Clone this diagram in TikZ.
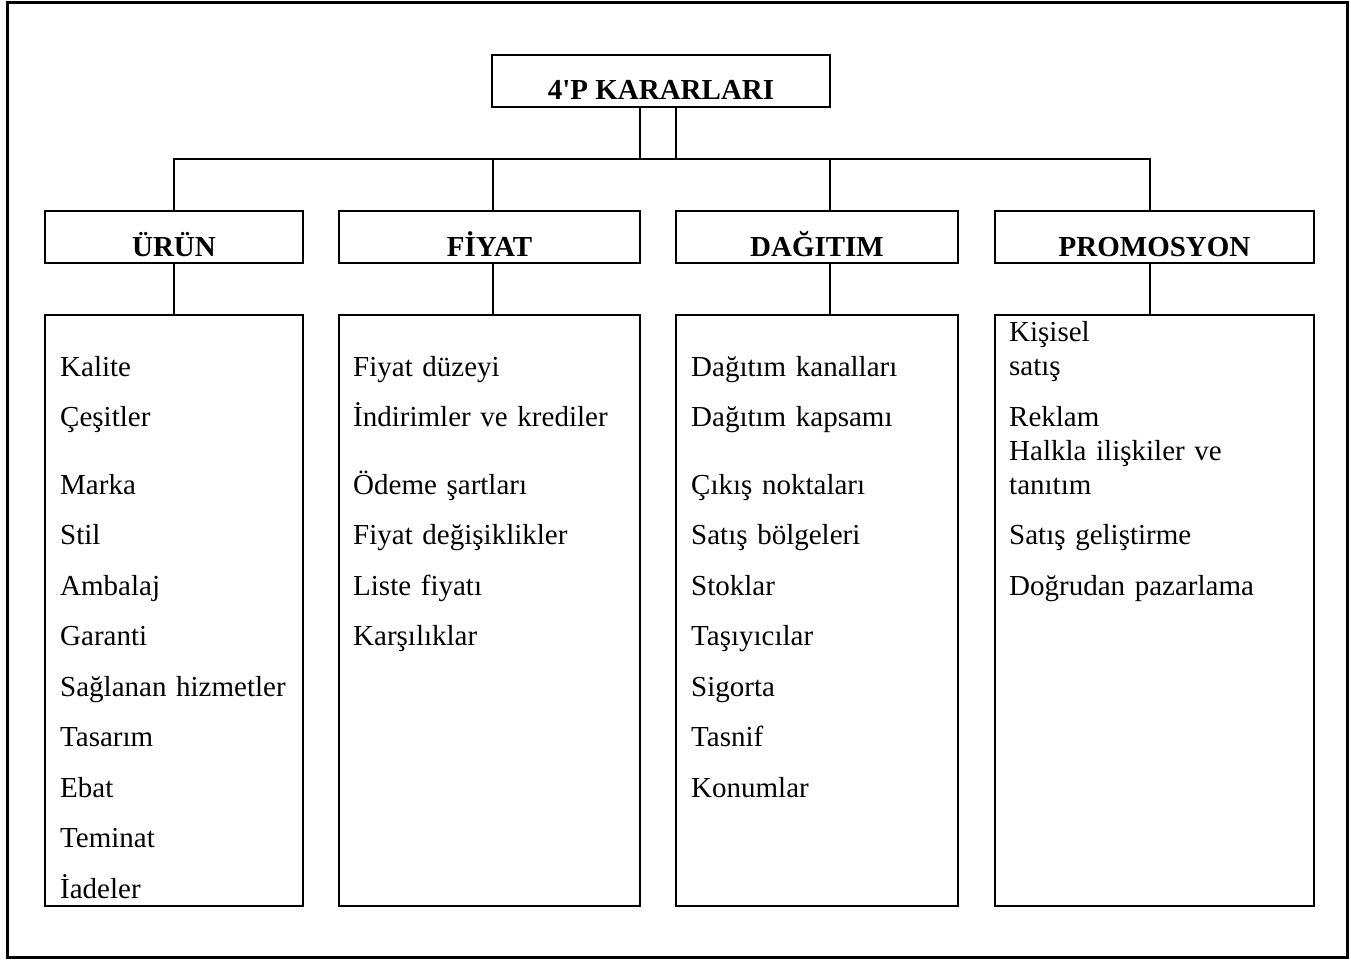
\documentclass[tikz,border=0pt]{standalone}
\usepackage{fontspec}
\setmainfont{Liberation Serif}
\usetikzlibrary{positioning}
\tikzstyle{head} = [rectangle, draw=black, line width=2pt, inner sep=0pt, outer sep=0pt, text height=45pt, text depth=7pt, font=\bfseries\fontsize{29}{35}\selectfont]
\tikzstyle{liste} = [rectangle, draw=black, line width=2pt, inner sep=0pt, outer sep=0pt, minimum height=591pt]
\tikzstyle{item} = [inner sep=0pt, text width=270pt, align=left, text height=21pt, text depth=7pt, font=\fontsize{29}{35}\selectfont]
\tikzstyle{item2} = [inner sep=0pt, text width=270pt, align=left, anchor=base west, font=\fontsize{29}{34.5}\selectfont]
\tikzstyle{line} = [line width=2pt]

\begin{document}
\begin{tikzpicture}[x=1pt, y=-1pt, node distance=50.5pt]

\useasboundingbox (0,0) rectangle (1351,960);
\draw [line width=3pt] (7.5,2.5) rectangle (1347.5,957);

\node (top) [head, minimum width=338pt, anchor=north west] at (492,55) {4\textquotesingle P KARARLARI};

\node (urun) [head, minimum width=258pt, anchor=north west] at (45,211) {ÜRÜN};
\node (fiyat) [head, minimum width=301pt, right=36pt of urun] {FİYAT};
\node (dagitim) [head, minimum width=282pt, right=36pt of fiyat] {DAĞITIM};
\node (promosyon) [head, minimum width=319pt, right=37pt of dagitim] {PROMOSYON};

\node (urunliste) [liste, minimum width=258pt, below=52pt of urun] {};
\node (fiyatliste) [liste, minimum width=301pt, below=52pt of fiyat] {};
\node (dagitimliste) [liste, minimum width=282pt, below=52pt of dagitim] {};
\node (promosyonliste) [liste, minimum width=319pt, below=52pt of promosyon] {};

% urun
\node (u1) [item, anchor=base west] at (60,376) {Kalite};
\node (u2) [item, below of=u1] {Çeşitler};
\node (u3) [item, below of=u2, yshift=-17pt] {Marka};
\node (u4) [item, below of=u3] {Stil};
\node (u5) [item, below of=u4] {Ambalaj};
\node (u6) [item, below of=u5] {Garanti};
\node (u7) [item, below of=u6] {Sağlanan hizmetler};
\node (u8) [item, below of=u7] {Tasarım};
\node (u9) [item, below of=u8] {Ebat};
\node (u10) [item, below of=u9] {Teminat};
\node (u11) [item, below of=u10] {İadeler};

% fiyat
\node (f1) [item, anchor=base west] at (353,376) {Fiyat düzeyi};
\node (f2) [item, below of=f1] {İndirimler ve krediler};
\node (f3) [item, below of=f2, yshift=-17pt] {Ödeme şartları};
\node (f4) [item, below of=f3] {Fiyat değişiklikler};
\node (f5) [item, below of=f4] {Liste fiyatı};
\node (f6) [item, below of=f5] {Karşılıklar};

% dagitim
\node (d1) [item, anchor=base west] at (691,376) {Dağıtım kanalları};
\node (d2) [item, below of=d1] {Dağıtım kapsamı};
\node (d3) [item, below of=d2, yshift=-17pt] {Çıkış noktaları};
\node (d4) [item, below of=d3] {Satış bölgeleri};
\node (d5) [item, below of=d4] {Stoklar};
\node (d6) [item, below of=d5] {Taşıyıcılar};
\node (d7) [item, below of=d6] {Sigorta};
\node (d8) [item, below of=d7] {Tasnif};
\node (d9) [item, below of=d8] {Konumlar};

% promosyon
\node (p1) [item2] at (1009,341) {Kişisel\\satış};
\node (p2) [item2] at (1009,426) {Reklam};
\node (p3) [item2] at (1009,460) {Halkla ilişkiler ve\\tanıtım};
\node (p4) [item2] at (1009,544) {Satış geliştirme};
\node (p5) [item2] at (1009,595) {Doğrudan pazarlama};

\coordinate (bus) at (661,159);
\coordinate (fkol) at ([xshift=3.5pt]fiyat.north);
\coordinate (dkol) at ([xshift=13pt]dagitim.north);
\coordinate (pkol) at ([xshift=-4.5pt]promosyon.north);

\draw [line] (top.south -| fiyat.east) -- (fiyat.east |- bus);
\draw [line] (top.south -| dagitim.west) -- (dagitim.west |- bus);
\draw [line] (urun.north) |- (pkol |- bus) -- (pkol);
\draw [line] (fkol) -- (fkol |- bus);
\draw [line] (dkol) -- (dkol |- bus);

\draw [line] (urun.south) -- (urunliste.north);
\draw [line] (fkol |- fiyat.south) -- (fkol |- fiyatliste.north);
\draw [line] (dkol |- dagitim.south) -- (dkol |- dagitimliste.north);
\draw [line] (pkol |- promosyon.south) -- (pkol |- promosyonliste.north);

\end{tikzpicture}
\end{document}
